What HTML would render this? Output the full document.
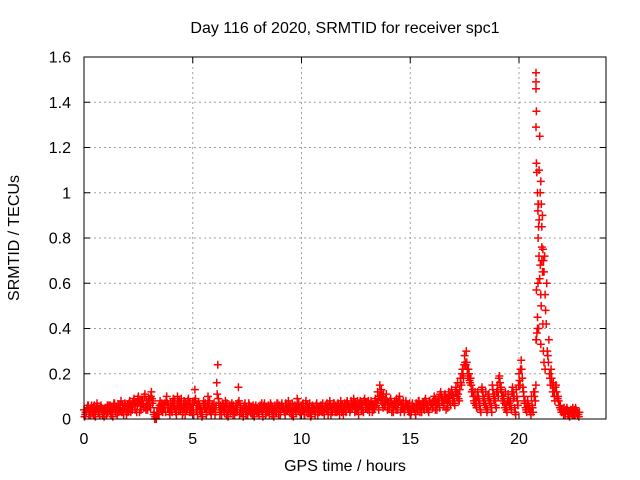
<!DOCTYPE html>
<html><head><meta charset="utf-8"><style>
body{margin:0;background:#fff}
svg{display:block;font-family:"Liberation Sans",sans-serif}
</style></head><body>
<svg id="c" width="640" height="480" xmlns="http://www.w3.org/2000/svg">
<text x="345" y="33" font-size="16" text-anchor="middle">Day 116 of 2020, SRMTID for receiver spc1</text>
<text x="345" y="471" font-size="16" text-anchor="middle">GPS time / hours</text>
<text x="0" y="0" font-size="16" text-anchor="middle" transform="translate(19,238) rotate(-90)">SRMTID / TECUs</text>
</svg>
<script>
const xTicks=[0,5,10,15,20];
const yTicks=[0,0.2,0.4,0.6,0.8,1,1.2,1.4,1.6];
const yTickLabels=["0","0.2","0.4","0.6","0.8","1","1.2","1.4","1.6"];
const step=0.1;
const seriesA=[.04,.03,.06,.02,.05,.04,.07,.03,.05,.04,
.05,.03,.06,.04,.07,.05,.03,.08,.04,.06,
.06,.08,.05,.09,.07,.10,.06,.08,.11,.07,
.09,.12,.02,.01,.05,.08,.04,.07,.10,.05,
.06,.09,.04,.10,.07,.05,.08,.06,.09,.05,
.07,.13,.04,.06,.03,.08,.05,.10,.04,.06,
.05,.16,.07,.04,.06,.08,.03,.05,.07,.04,
.06,.14,.05,.03,.07,.04,.06,.05,.03,.06,
.04,.06,.03,.07,.05,.04,.06,.03,.05,.07,
.05,.07,.04,.06,.08,.05,.03,.06,.09,.05,
.06,.04,.08,.05,.03,.06,.04,.07,.05,.06,
.04,.06,.05,.08,.04,.07,.05,.06,.08,.04,
.06,.08,.05,.07,.09,.06,.04,.08,.06,.09,
.07,.05,.08,.06,.09,.12,.15,.10,.08,.11,
.07,.09,.05,.08,.06,.10,.07,.05,.08,.06,
.04,.07,.05,.06,.08,.05,.07,.09,.06,.08,
.07,.10,.06,.09,.12,.08,.11,.07,.10,.13,
.09,.14,.11,.18,.22,.28,.25,.20,.15,.10,
.08,.12,.06,.14,.09,.05,.11,.07,.13,.08,
.15,.19,.12,.09,.06,.11,.08,.14,.05,.10,
.20,.26,.12,.05,.08,.04,.06,.10,.35,.95,
1.05,.75,.55,.30,.20,.18,.12,.15,.10,.06,
.04,.03,.05,.02,.04,.03,.05,.02];
const seriesB=[.02,.05,.03,.06,.02,.04,.03,.05,.02,.04,
.03,.06,.02,.05,.03,.04,.06,.03,.05,.02,
.04,.03,.07,.04,.06,.03,.08,.05,.04,.06,
.05,.07,.00,.03,.02,.04,.06,.03,.05,.02,
.03,.05,.02,.04,.06,.03,.02,.05,.03,.04,
.02,.04,.06,.03,.02,.05,.03,.04,.02,.05,
.03,.24,.02,.05,.03,.02,.04,.06,.02,.03,
.04,.02,.03,.05,.02,.04,.03,.02,.05,.03,
.02,.04,.05,.02,.03,.05,.02,.04,.03,.02,
.03,.05,.02,.04,.03,.02,.05,.03,.04,.02,
.04,.02,.03,.05,.02,.04,.03,.02,.04,.03,
.02,.04,.03,.02,.05,.03,.04,.02,.03,.05,
.03,.05,.04,.06,.03,.05,.07,.04,.03,.05,
.04,.06,.03,.05,.07,.04,.08,.05,.06,.04,
.05,.03,.06,.04,.07,.03,.05,.04,.06,.03,
.03,.05,.02,.04,.03,.06,.04,.05,.03,.07,
.05,.04,.07,.05,.08,.06,.04,.09,.06,.08,
.06,.10,.08,.15,.18,.24,.19,.16,.12,.07,
.05,.09,.03,.10,.06,.04,.08,.03,.09,.05,
.10,.13,.08,.05,.03,.07,.04,.09,.02,.06,
.15,.18,.07,.03,.05,.02,.03,.08,.40,1.25,
.85,.65,.42,.25,.15,.12,.08,.10,.06,.03,
.02,.04,.02,.03,.02,.04,.03,.01];
const seriesC=[.01,.04,.02,.05,.03,.01,.05,.02,.04,.01,
.02,.05,.03,.01,.04,.02,.05,.03,.02,.04,
.03,.05,.04,.06,.03,.07,.04,.06,.05,.04,
.06,.09,.03,.00,.02,.05,.03,.05,.07,.03,
.04,.06,.03,.07,.04,.02,.05,.04,.06,.03,
.04,.09,.02,.04,.01,.06,.02,.07,.03,.04,
.02,.11,.05,.02,.04,.05,.01,.03,.05,.02,
.03,.08,.03,.01,.04,.02,.04,.03,.01,.04,
.03,.05,.01,.05,.03,.02,.04,.01,.03,.05,
.02,.05,.03,.04,.05,.03,.01,.04,.06,.03,
.04,.02,.06,.03,.01,.04,.02,.05,.03,.04,
.03,.05,.02,.06,.03,.05,.03,.04,.06,.02,
.04,.06,.03,.05,.07,.04,.02,.06,.04,.07,
.05,.03,.06,.04,.06,.09,.12,.07,.06,.08,
.05,.07,.03,.06,.04,.08,.05,.03,.06,.04,
.02,.05,.03,.05,.06,.03,.05,.07,.04,.06,
.05,.08,.04,.07,.10,.06,.09,.05,.08,.11,
.07,.12,.09,.16,.20,.25,.22,.17,.12,.08,
.06,.10,.04,.12,.07,.03,.09,.05,.11,.06,
.12,.16,.10,.07,.04,.09,.06,.12,.03,.08,
.17,.22,.10,.04,.06,.03,.05,.12,.38,1.10,
.95,.70,.48,.28,.18,.15,.10,.12,.08,.04,
.03,.02,.04,.01,.03,.02,.04,.02];
const seriesD=[.03,.06,.04,.03,.06,.05,.04,.06,.03,.05,
.06,.04,.05,.07,.05,.06,.04,.06,.07,.05,
.07,.06,.08,.07,.09,.08,.07,.10,.08,.09,
.10,.08,.01,.02,.06,.07,.05,.08,.06,.07,
.07,.08,.06,.08,.09,.06,.07,.08,.07,.06,
.08,.06,.07,.05,.06,.07,.06,.08,.05,.07,
.06,.09,.06,.07,.05,.07,.06,.04,.06,.05,
.07,.06,.04,.06,.05,.07,.05,.06,.04,.05,
.05,.07,.06,.05,.06,.07,.05,.06,.07,.06,
.06,.05,.07,.05,.06,.07,.06,.05,.07,.06,
.07,.05,.06,.07,.05,.05,.06,.05,.06,.07,
.05,.07,.06,.05,.07,.06,.07,.05,.06,.07,
.07,.06,.08,.06,.07,.08,.06,.07,.08,.07,
.08,.07,.06,.08,.07,.10,.13,.11,.09,.07,
.08,.06,.07,.09,.08,.06,.08,.07,.05,.07,
.06,.05,.07,.08,.06,.07,.08,.06,.08,.07,
.08,.09,.08,.11,.09,.10,.09,.12,.11,.10,
.12,.16,.13,.20,.24,.30,.22,.18,.13,.12,
.10,.07,.13,.08,.12,.10,.07,.15,.10,.12,
.18,.14,.10,.12,.08,.06,.12,.10,.13,.15,
.22,.14,.08,.07,.05,.10,.12,.15,.60,1.00,
.90,.72,.60,.35,.22,.16,.14,.09,.05,.04,
.05,.04,.03,.04,.05,.02,.03,.03];
const peakTimes=[20.78,20.78,20.78,20.8,20.78,20.8,20.82,20.85,20.87,20.9,20.88,20.92,20.95,21.05,21.05,21.08,21.0,20.9,20.8,20.78,21.1,21.0,21.15,20.85,21.02,20.88,20.93,21.12,21.2,20.98];
const peakVals=[1.53,1.49,1.46,1.36,1.29,1.13,1.09,1.0,0.92,0.85,0.8,0.72,0.62,0.76,0.7,0.65,0.55,0.4,0.57,0.35,0.42,0.33,0.25,0.45,0.5,0.95,0.88,0.3,0.22,0.68];

const L=84,R=606,T=57,B=419,XMAX=24,YMAX=1.6;
const X=t=>L+t/XMAX*(R-L), Y=v=>B-v/YMAX*(B-T);
const svg=document.getElementById('c'),NS='http://www.w3.org/2000/svg';
function mk(tag,at){const e=document.createElementNS(NS,tag);for(const k in at)e.setAttribute(k,at[k]);svg.appendChild(e);return e;}
yTicks.forEach((v,i)=>{const y=Y(v);
 if(i>0&&i<yTicks.length-1){const g=mk('line',{x1:L,x2:R,y1:y,y2:y,stroke:'#a0a0a0','stroke-dasharray':'2,3'});
 
 }
 const tk=mk('path',{d:`M${L} ${y}h6M${R} ${y}h-6`,stroke:'#000'});
 
 
 const t=mk('text',{x:71,y:y+5.5,'font-size':16,'text-anchor':'end'});t.textContent=yTickLabels[i];
 
 
});
xTicks.forEach(v=>{const x=X(v);
 if(v>0){const g=mk('line',{x1:x,x2:x,y1:T,y2:B,stroke:'#a0a0a0','stroke-dasharray':'2,3'});
 
 }
 const tk=mk('path',{d:`M${x} ${B}v-6M${x} ${T}v6`,stroke:'#000'});
 
 
 const t=mk('text',{x:x,y:444,'font-size':16,'text-anchor':'middle'});t.textContent=String(v);
 
 
});
let d='';
const add=(t,v)=>{const x=X(t),y=Y(v);d+=`M${(x-4).toFixed(1)} ${y.toFixed(1)}h8M${x.toFixed(1)} ${(y-4).toFixed(1)}v8`;};
seriesA.forEach((v,i)=>add(i*step,v));
seriesB.forEach((v,i)=>add(i*step+step/2,v));
seriesC.forEach((v,i)=>add(i*step+step/4,v));
seriesD.forEach((v,i)=>add(i*step+3*step/4,v));
peakTimes.forEach((t,i)=>add(t,peakVals[i]));
const p=mk('path',{d:d,stroke:'#ff0000','stroke-width':1.5,fill:'none'});


const f=mk('rect',{x:L,y:T,width:R-L,height:B-T,fill:'none',stroke:'#000'});


</script>
</body></html>
